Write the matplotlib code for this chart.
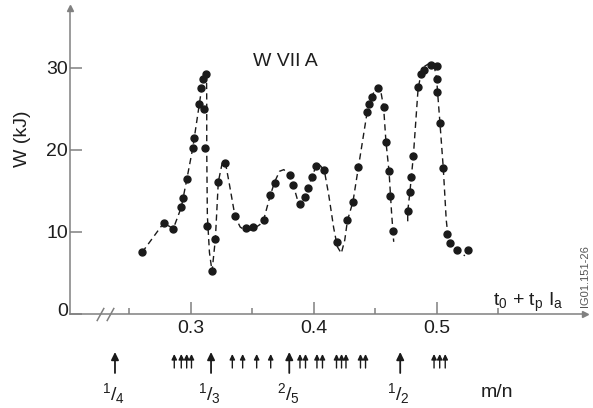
import matplotlib
matplotlib.use("Agg")
import matplotlib.pyplot as plt
from matplotlib.transforms import ScaledTranslation

plt.rcParams['font.family'] = ['Liberation Sans', 'DejaVu Sans']
plt.rcParams['mathtext.fontset'] = 'custom'
plt.rcParams['mathtext.rm'] = 'Liberation Sans'
plt.rcParams['mathtext.it'] = 'Liberation Sans:italic'
plt.rcParams['mathtext.bf'] = 'Liberation Sans:bold'

# ---------------- data ----------------
meas_x = [0.2602, 0.2778, 0.2856, 0.2921, 0.2935, 0.2967, 0.3014, 0.3024, 0.3068,
          0.3081, 0.3098, 0.3125, 0.3108, 0.3111, 0.3133, 0.3171, 0.3198, 0.3222,
          0.3279, 0.3358, 0.3445, 0.3502, 0.3591, 0.3645, 0.3683, 0.3807, 0.3829,
          0.3884, 0.3927, 0.3954, 0.3981, 0.4016, 0.4084, 0.4189, 0.4272, 0.4317,
          0.4360, 0.4431, 0.4445, 0.4469, 0.4523, 0.4566, 0.4585, 0.4610, 0.4621,
          0.4645, 0.4762, 0.4780, 0.4791, 0.4808, 0.4846, 0.4870, 0.4892, 0.4951,
          0.5000, 0.4997, 0.5000, 0.5024, 0.5051, 0.5084, 0.5106, 0.5160, 0.5252]
meas_w = [7.5, 11.1, 10.4, 13.0, 14.2, 16.5, 20.2, 21.5, 25.6,
          27.5, 28.7, 29.2, 25.0, 20.2, 10.7, 5.2, 9.1, 16.1,
          18.4, 11.9, 10.5, 10.6, 11.5, 14.5, 16.0, 17.0, 15.7,
          13.4, 14.3, 15.4, 16.7, 18.1, 17.6, 8.8, 11.5, 13.7,
          17.9, 24.6, 25.6, 26.5, 27.5, 25.2, 21.0, 17.4, 14.4,
          10.1, 12.5, 14.9, 16.7, 19.3, 27.7, 29.3, 29.8, 30.4,
          30.2, 28.7, 27.0, 23.3, 17.8, 9.8, 8.6, 7.85, 7.8]

# dashed guide curve (two branches)
fit1_x = [0.2602, 0.2778, 0.2856, 0.2921, 0.2967, 0.3014, 0.3068, 0.3098, 0.3126,
          0.3128, 0.3128, 0.3133, 0.3150, 0.3171, 0.3198, 0.3222, 0.3255, 0.3279,
          0.3310, 0.3358, 0.3400, 0.3450, 0.3502, 0.3560, 0.3591, 0.3645, 0.3683,
          0.3720, 0.3755, 0.3790, 0.3830, 0.3870, 0.3895, 0.3927, 0.3981, 0.4016,
          0.4045, 0.4084, 0.4120, 0.4160, 0.4190, 0.4222, 0.4250, 0.4272, 0.4317,
          0.4360, 0.4431, 0.4469, 0.4500, 0.4523, 0.4545, 0.4566, 0.4585, 0.4610,
          0.4630, 0.4648]
fit1_w = [7.5, 11.1, 10.4, 13.0, 16.5, 20.2, 25.6, 28.7, 29.45,
          26.0, 20.0, 12.0, 7.5, 5.2, 9.1, 16.1, 18.5, 18.5,
          16.0, 11.9, 10.6, 10.1, 10.3, 10.9, 11.5, 14.5, 16.2,
          17.4, 17.6, 17.0, 15.8, 13.7, 13.1, 14.3, 16.6, 18.0,
          18.2, 17.5, 14.5, 10.5, 8.2, 7.4, 9.0, 11.4, 13.7,
          17.8, 24.5, 26.5, 27.4, 27.7, 27.0, 25.2, 21.0, 17.4,
          12.5, 8.8]
fit2_x = [0.4762, 0.4762, 0.4780, 0.4808, 0.4830, 0.4846, 0.4870, 0.4900, 0.4943,
          0.4980, 0.4997, 0.5005, 0.5024, 0.5051, 0.5075, 0.5090, 0.5106, 0.5160,
          0.5227]
fit2_w = [11.3, 12.5, 14.9, 19.3, 24.0, 27.4, 29.3, 30.2, 30.6,
          30.0, 28.7, 27.0, 23.3, 17.8, 11.5, 9.4, 8.4, 7.7,
          7.1]

# rational-surface markers (m/n) in units of the horizontal axis
major_q_x = [0.2382, 0.3163, 0.3799, 0.4701]
major_q_lbl = [r'$\mathregular{^{1}/_{4}}$', r'$\mathregular{^{1}/_{3}}$',
               r'$\mathregular{^{2}/_{5}}$', r'$\mathregular{^{1}/_{2}}$']
major_q_lbl_x = [0.2366, 0.3146, 0.3793, 0.4686]
minor_q_x = [0.2864, 0.2921, 0.2965, 0.3004,
             0.3336, 0.3420, 0.3534, 0.3648,
             0.3886, 0.3931, 0.4024, 0.4069,
             0.4183, 0.4224, 0.4260, 0.4378, 0.4419,
             0.4976, 0.5022, 0.5067]

y_ticks = [0, 10, 20, 30]
x_ticks = [0.3, 0.4, 0.5]
x_ticklabels = ['0.3', '0.4', '0.5']
x_minor = [0.25, 0.35, 0.45, 0.55]
break_x = [0.2263, 0.2339]

# ---------------- figure ----------------
W, H = 593, 408
fig = plt.figure(figsize=(W / 100, H / 100), dpi=100)
ax = fig.add_axes([70 / W, 94 / H, 515 / W, 306 / H])
ax.set_xlim(0.20163, 0.62033)
ax.set_ylim(0, 37.3)

axc = '#808080'
txt = '#1e1e1e'
for s in ['top', 'right']:
    ax.spines[s].set_visible(False)
for s in ['left', 'bottom']:
    ax.spines[s].set_color(axc)
    ax.spines[s].set_linewidth(1.1)

ax.set_yticks(y_ticks)
ax.set_xticks(x_ticks)
ax.set_xticklabels(x_ticklabels)
ax.set_xticks(x_minor, minor=True)
ax.tick_params(axis='both', which='major', direction='in', length=8.3, width=1.1,
               color=axc, labelsize=14, labelcolor=txt)
ax.tick_params(axis='x', which='major', pad=4.5)
ax.tick_params(axis='y', which='major', pad=1.5)
ax.tick_params(axis='x', which='minor', direction='in', length=4.3, width=1.1, color=axc)

# raise the "0" label a little, as in the reference
t0 = ax.yaxis.get_major_ticks()[0]
t0.label1.set_transform(t0.label1.get_transform() +
                        ScaledTranslation(0, 4 / 100, fig.dpi_scale_trans))

# axis arrows
ax.plot([1], [0], marker='>', markersize=5, color=axc, transform=ax.transAxes, clip_on=False)
ax.plot([0], [1], marker='^', markersize=5, color=axc, transform=ax.transAxes, clip_on=False)

# axis break marks
ax.plot(break_x, [0, 0], linestyle='none', marker=[(-0.55, -1), (0.55, 1)],
        markersize=9.6, markeredgewidth=1.1, color=axc, clip_on=False)

# dashed guide curves
for fx, fw in [(fit1_x, fit1_w), (fit2_x, fit2_w)]:
    ln, = ax.plot(fx, fw, color='#1a1a1a', lw=1.0, clip_on=False)
    ln.set_dashes([4.5, 3.0])

# measured points
ax.plot(meas_x, meas_w, linestyle='none', marker='o', markersize=5,
        color='#1a1a1a', clip_on=False)

# texts
ax.text(0.3764, 30.2, 'W VII A', fontsize=14, color=txt, ha='center', va='baseline')
ax.text(0.5455, 1.0, r'$\mathregular{t_0}$ + $\mathregular{t_p}$ $\mathregular{I_a}$',
        fontsize=14, color=txt, ha='left', va='baseline')
fig.text(22.5 / W, (H - 139) / H, 'W (kJ)', rotation=90, fontsize=14, color=txt,
         ha='center', va='center')
fig.text(580 / W, (H - 307) / H, 'IG01.151-26', rotation=90, fontsize=8,
         color='#555555', ha='left', va='bottom')

# rational surface arrows
for qx in major_q_x:
    ax.annotate('', xy=(qx, (H - 352) / H), xytext=(qx, (H - 373) / H),
                xycoords=('data', 'figure fraction'), textcoords=('data', 'figure fraction'),
                arrowprops=dict(arrowstyle='-|>,head_length=0.45,head_width=0.22',
                                color='#1a1a1a', lw=1.3, shrinkA=0, shrinkB=0,
                                mutation_scale=10))
for qx in minor_q_x:
    ax.annotate('', xy=(qx, (H - 354) / H), xytext=(qx, (H - 368) / H),
                xycoords=('data', 'figure fraction'), textcoords=('data', 'figure fraction'),
                arrowprops=dict(arrowstyle='-|>,head_length=0.45,head_width=0.22',
                                color='#1a1a1a', lw=1.0, shrinkA=0, shrinkB=0,
                                mutation_scale=7))
for lx, lbl in zip(major_q_lbl_x, major_q_lbl):
    ax.annotate(lbl, xy=(lx, (H - 400) / H), xycoords=('data', 'figure fraction'),
                fontsize=14, color=txt, ha='center', va='baseline')
ax.annotate('m/n', xy=(0.5484, (H - 397) / H), xycoords=('data', 'figure fraction'),
            fontsize=14, color=txt, ha='center', va='baseline')

fig.savefig('out.png', dpi=100)
